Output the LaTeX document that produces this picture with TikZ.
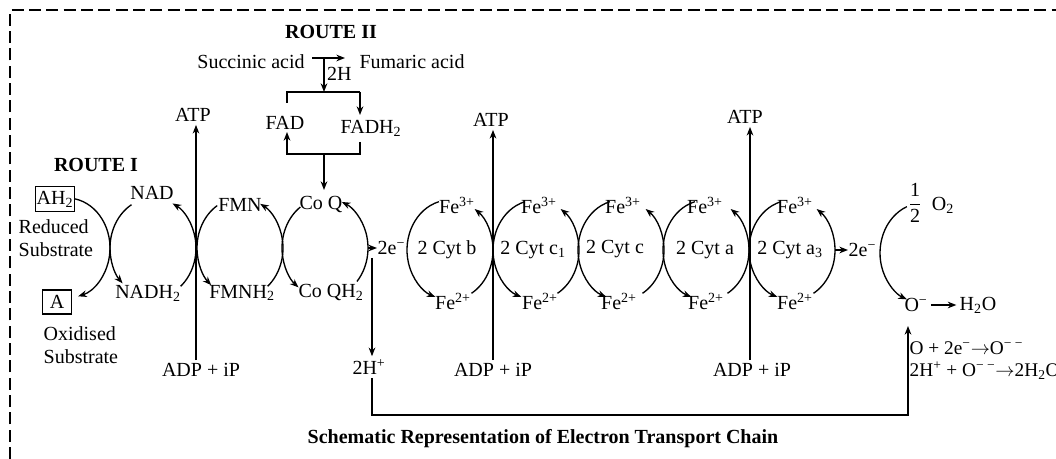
\documentclass[tikz,border=0pt]{standalone}
\usepackage{fontspec}
\setmainfont{Liberation Serif}
\usetikzlibrary{arrows.meta}
\newcommand\etcarc[3]{\draw[cyc] ([shift={(#2:32.25pt and 37.5pt)}]#1) arc[start angle=#2,end angle=#3,x radius=32.25pt,y radius=37.5pt];}
\begin{document}
\begin{tikzpicture}[x=0.75pt,y=-0.75pt,
  every node/.style={font=\fontsize{15}{17.5}\selectfont, inner sep=2pt},
  line width=1pt,
  arr/.style={-{Stealth[length=6.5pt,width=5pt]}},
  bold/.style={font=\fontsize{15}{17.5}\selectfont\bfseries},
  boxed/.style={draw, inner sep=1pt},
  border/.style={dash pattern=on 9pt off 4pt, line width=1pt},
  cyc/.style={arr}]
\useasboundingbox (0,0) rectangle (1056,459);
\clip (0,0) rectangle (1056,459);

% border
\coordinate (tl) at (10,10);
\coordinate (bl0) at (10,459);
\coordinate (tr0) at (1056,10);
\draw[border] (bl0) -- (tl) -- (tr0);

% ---------- Route II ----------
\node[bold] (r2) at (331,32) {ROUTE II};
\node (succ) at (251,62) {Succinic acid};
\node (fum) at (412,62) {Fumaric acid};
\coordinate (sa1) at (312,58);
\coordinate (sa2) at (345,58);
\draw[arr] (sa1) -- (sa2);
\coordinate (hh) at (324,58);
\coordinate (bt) at (324,92);
\draw[arr] (hh) -- (bt);
\node[anchor=west, inner sep=1pt] (twoh) at (325,74) {2H};
\node (fad) at (285,123) {FAD};
\node (fadh) at (371,128) {FADH\textsubscript{2}};
\coordinate (bl) at (287,92);
\coordinate (br) at (360,92);
\coordinate (bls) at (287,103);
\coordinate (brt) at (360,115);
\draw (bls) -- (bl) -- (br);
\draw[arr] (br) -- (brt);
\coordinate (bbl) at (287,154);
\coordinate (bbr) at (360,154);
\coordinate (bbrs) at (360,142);
\coordinate (blt) at (287,132);
\draw[arr] (bbrs) -- (bbr) -- (bbl) -- (blt);
\coordinate (bm) at (324,154);
\coordinate (coqtop) at (324,190);
\draw[arr] (bm) -- (coqtop);

% ---------- Route I ----------
\node[bold] (r1) at (96,165) {ROUTE I};
\node[boxed, minimum height=19pt] (ah) at (55,199) {AH\textsubscript{2}};
\node[anchor=west, align=left, inner sep=0pt] (red) at (18,238) {Reduced\\Substrate};
\node[boxed, minimum width=22pt, minimum height=18pt] (a) at (57,302) {A};
\node[anchor=west, align=left, inner sep=0pt] (oxi) at (43,345) {Oxidised\\Substrate};

\node (nad) at (152,193) {NAD};
\node (nadh) at (148,293) {NADH\textsubscript{2}};
\node (fmn) at (240,205) {FMN};
\node (fmnh) at (242,293) {FMNH\textsubscript{2}};
\node (coq) at (321,205) {Co Q};
\node (coqh) at (331,293) {Co QH\textsubscript{2}};

\coordinate (k1) at (67,248);
\coordinate (k2) at (153,248);
\coordinate (k3) at (240,248);
\coordinate (k4) at (325,248);
\etcarc{k1}{80}{-75}
\etcarc{k2}{120}{225}
\etcarc{k2}{-50}{63}
\etcarc{k3}{122}{228}
\etcarc{k3}{-50}{62}
\etcarc{k4}{125}{232}
\etcarc{k4}{-42}{67}

% ATP 1
\node (atp1) at (193,115) {ATP};
\node (adp1) at (201,370) {ADP + iP};
\coordinate (x1) at (196,0);
\draw[arr] (x1 |- adp1.north) -- (x1 |- atp1.south);

% 2e- after Co Q
\node[anchor=west, inner sep=0pt] (e1) at (377,248) {2e\textsuperscript{−}};
\draw[arr] ([xshift=32.25pt]k4) -- (e1.west);

% 2H+ and return line
\node (hp) at (369,367) {2H\textsuperscript{+}};
\coordinate (hs) at (372,258);
\draw[arr] (hs) -- (hs |- hp.north);
\coordinate (cn) at (372,415);
\coordinate (ot) at (908,326);
\draw[arr] (hs |- hp.south) -- (cn) -| (ot);

% ---------- Cytochromes ----------
\coordinate (cb) at (450,250);
\coordinate (cc1) at (536,250);
\coordinate (cc) at (621,250);
\coordinate (ca) at (706,250);
\coordinate (ca3) at (792,250);
\foreach \c in {cb,cc1,cc,ca,ca3}{
  \etcarc{\c}{105}{250}
  \etcarc{\c}{-60}{55}
}
\node (tb) at (447,250) {2 Cyt b};
\node (tc1) at (533,250) {2 Cyt c\textsubscript{1}};
\node (tc) at (615,249) {2 Cyt c};
\node (ta) at (705,250) {2 Cyt a};
\node (ta3) at (790,250) {2 Cyt a\textsubscript{3}};

\node (b3) at (457,205) {Fe\textsuperscript{3+}};
\node (b2) at (453,301) {Fe\textsuperscript{2+}};
\node (c13) at (539,205) {Fe\textsuperscript{3+}};
\node (c12) at (540,301) {Fe\textsuperscript{2+}};
\node (c3) at (623,205) {Fe\textsuperscript{3+}};
\node (c2) at (619,301) {Fe\textsuperscript{2+}};
\node (a3x) at (705,205) {Fe\textsuperscript{3+}};
\node (a2x) at (706,301) {Fe\textsuperscript{2+}};
\node (a33) at (795,205) {Fe\textsuperscript{3+}};
\node (a32) at (795,301) {Fe\textsuperscript{2+}};

% ATP 2 and 3
\node (atp2) at (491,120) {ATP};
\node (adp2) at (493,370) {ADP + iP};
\coordinate (x2) at (493,0);
\draw[arr] (x2 |- adp2.north) -- (x2 |- atp2.south);
\node (atp3) at (745,117) {ATP};
\node (adp3) at (752,370) {ADP + iP};
\coordinate (x3) at (750,0);
\draw[arr] (x3 |- adp3.north) -- (x3 |- atp3.south);

% 2e- after Cyt a3
\node[anchor=west, inner sep=0pt] (e2) at (848,250) {2e\textsuperscript{−}};
\draw[arr] ([xshift=32.25pt]ca3) -- (e2.west);

% ---------- Oxygen ----------
\node (half) at (915,203) {$\displaystyle{\mbox{1}\over\mbox{2}}$};
\node (o2) at (943,205) {O\textsubscript{2}};
\coordinate (ko) at (923,253);
\etcarc{ko}{112}{248}
\node (om) at (916,305) {O\textsuperscript{−}};
\node (h2o) at (978,305) {H\textsubscript{2}O};
\draw[arr] (om) -- (h2o);
\node[anchor=west, align=left, inner sep=0pt, font=\fontsize{14.5}{16.5}\selectfont] (eq) at (909,361)
  {O + 2e\textsuperscript{−}$\rightarrow$O\textsuperscript{− −}\\2H\textsuperscript{+} + O\textsuperscript{− −}$\rightarrow$2H\textsubscript{2}O};

% caption
\node[bold] (cap) at (543,439) {Schematic Representation of Electron Transport Chain};
\end{tikzpicture}
\end{document}
